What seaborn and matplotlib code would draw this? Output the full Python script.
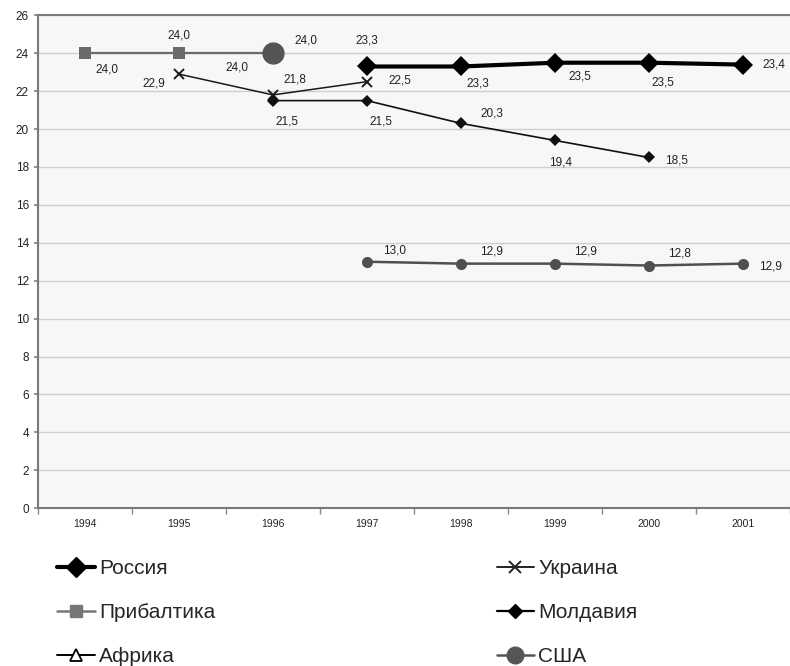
import numpy as np
import pandas as pd
import matplotlib.pyplot as plt
from matplotlib.lines import Line2D
import seaborn as sns

sns.set_theme(style="white")
plt.rcParams['font.family'] = ['Liberation Sans', 'DejaVu Sans']

years = [1994, 1995, 1996, 1997, 1998, 1999, 2000, 2001]
russia = [np.nan, np.nan, np.nan, 23.3, 23.3, 23.5, 23.5, 23.4]
baltic = [24.0, 24.0, 24.0, np.nan, np.nan, np.nan, np.nan, np.nan]
ukraine = [np.nan, 22.9, 21.8, 22.5, np.nan, np.nan, np.nan, np.nan]
moldova = [np.nan, np.nan, 21.5, 21.5, 20.3, 19.4, 18.5, np.nan]
usa = [np.nan, np.nan, np.nan, 13.0, 12.9, 12.9, 12.8, 12.9]
africa = [np.nan] * 8
big_dot_year, big_dot_value = 1996, 24.0  # lone large circle at 1996

df = pd.DataFrame({"year": years, "Россия": russia, "Прибалтика": baltic,
                   "Украина": ukraine, "Молдавия": moldova, "США": usa})

fig = plt.figure(figsize=(7.9, 6.66), dpi=100)
ax = fig.add_axes([0.048, 0.237, 0.952, 0.740])
ax.set_facecolor('#f7f7f7')

ax.set_ylim(0, 26)
ax.set_xlim(1993.5, 2001.5)
ax.set_yticks(range(0, 27, 2))
ax.yaxis.grid(True, color='#cfcfcf', lw=1)
ax.set_axisbelow(True)

sns.lineplot(data=df, x="year", y="Прибалтика", ax=ax, color='#6a6a6a', lw=1.6,
             marker='s', markersize=9, markeredgewidth=0)
sns.lineplot(data=df, x="year", y="США", ax=ax, color='#505050', lw=1.8,
             marker='o', markersize=8, markeredgewidth=0)
ax.plot([big_dot_year], [big_dot_value], 'o', color='#555555', markersize=15)
sns.lineplot(data=df, x="year", y="Украина", ax=ax, color='#1a1a1a', lw=1.1,
             marker='x', markersize=7, markeredgewidth=1.4,
             markeredgecolor='#1a1a1a')
sns.lineplot(data=df, x="year", y="Молдавия", ax=ax, color='#111111', lw=1.2,
             marker='D', markersize=6, markeredgewidth=0)
sns.lineplot(data=df, x="year", y="Россия", ax=ax, color='#000000', lw=3.0,
             marker='D', markersize=10, markeredgewidth=0)

def fmt(v):
    return f"{v:.1f}".replace('.', ',')

label_offsets = {
    "Прибалтика": [(16, -12), (0, 13), (-26, -10)],
    "Украина": [(-18, -7), (16, 11), (24, 1)],
    "Молдавия": [(10, -15), (10, -15), (22, 7), (4, -16), (20, -2)],
    "Россия": [(0, 19), (12, -12), (18, -10), (10, -14), (22, 0)],
    "США": [(20, 8), (22, 9), (22, 9), (22, 9), (20, -2)],
}
for name, offs in label_offsets.items():
    pts = df[["year", name]].dropna().values
    for (x, y), (dx, dy) in zip(pts, offs):
        ax.annotate(fmt(y), (x, y), xytext=(dx, dy), textcoords='offset points',
                    ha='center', va='center', fontsize=8.5, color='#222222')
ax.annotate(fmt(big_dot_value), (big_dot_year, big_dot_value), xytext=(24, 9),
            textcoords='offset points', ha='center', va='center',
            fontsize=8.5, color='#222222')

ax.set_xticks(years)
ax.set_xticklabels([str(y) for y in years], fontsize=7.5, color='#222222')
ax.set_xticks(np.arange(1993.5, 2001.6, 1), minor=True)
ax.tick_params(axis='x', which='major', length=0, pad=8)
ax.tick_params(axis='x', which='minor', length=4, color='#888888', bottom=True)
ax.tick_params(axis='y', labelsize=8.5, length=3, color='#888888', left=True,
               labelcolor='#222222')
ax.set_xlabel('')
ax.set_ylabel('')
for side in ['left', 'bottom', 'top']:
    ax.spines[side].set_color('#7a7a7a')
    ax.spines[side].set_linewidth(1.5)
ax.spines['right'].set_visible(False)

h_russia = Line2D([], [], color='black', lw=3, marker='D', markersize=10)
h_baltic = Line2D([], [], color='#777777', lw=1.8, marker='s', markersize=9)
h_africa = Line2D([], [], color='black', lw=1.4, marker='^', markersize=8,
                  markerfacecolor='white', markeredgewidth=1.3)
h_ukraine = Line2D([], [], color='#222222', lw=1.4, marker='x', markersize=8,
                   markeredgewidth=1.4)
h_moldova = Line2D([], [], color='black', lw=1.6, marker='D', markersize=7)
h_usa = Line2D([], [], color='#555555', lw=1.8, marker='o', markersize=12)

legend_font = {'family': ['Liberation Sans Narrow', 'Liberation Sans'], 'size': 15}
common = dict(loc='upper left', frameon=False, prop=legend_font, handlelength=1.8,
              handletextpad=0.2, labelspacing=1.2, borderaxespad=0)
fig.legend([h_russia, h_baltic, h_africa], ["Россия", "Прибалтика", "Африка"],
           bbox_to_anchor=(0.062, 0.173), **common)
fig.legend([h_ukraine, h_moldova, h_usa], ["Украина", "Молдавия", "США"],
           bbox_to_anchor=(0.618, 0.173), **common)

fig.savefig('out.png', dpi=100)
